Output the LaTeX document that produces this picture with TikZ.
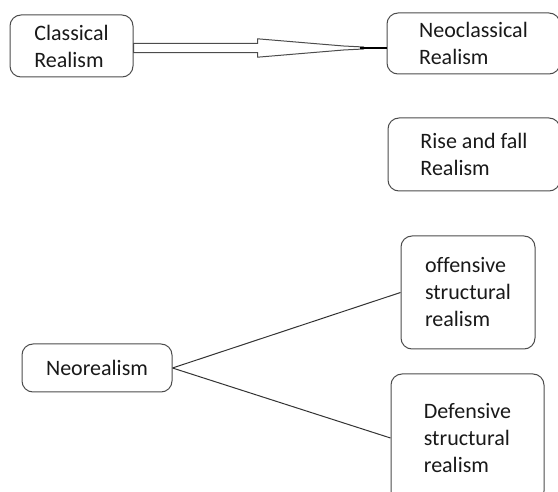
\documentclass[tikz,border=0pt]{standalone}
\usepackage{fontspec}
\setmainfont{Carlito}[Ligatures={NoCommon}]
\usepackage{tikz}
\usetikzlibrary{calc}
\usetikzlibrary{positioning}
\tikzset{
    school/.style={
           rectangle,
           rounded corners=5.5pt,
           draw=black!70, line width=0.5pt,
           align=left,
           inner sep=2pt,
           text=black!90,
           font=\fontsize{11}{13.5}\selectfont,
           },
    hollow/.style={
           draw=black!70, line width=0.5pt,
           fill=white,
           },
}
\begin{document}
\begin{tikzpicture}[x=1pt,y=1pt]

 % fixed frame of the picture
 \useasboundingbox (0,0) rectangle (279,-246);

 % Position of CLASSICAL
 \node[school, minimum width=61.5pt, minimum height=31pt] (CLASSICAL) at (35.75,-23)
 {Classical\\Realism};

 % NEOCLASSICAL to the right of CLASSICAL
 \node[school,
  minimum width=86.5pt, minimum height=30.5pt,
  right of=CLASSICAL,
  node distance=201pt,
  yshift=1.25pt] (NEOCLASSICAL)
 {Neoclassical\\Realism};

 % RISEFALL below NEOCLASSICAL
 \node[school,
  minimum width=86pt, minimum height=36.5pt,
  below of=NEOCLASSICAL,
  node distance=55.5pt,
  xshift=0.25pt] (RISEFALL)
 {Rise and fall\\Realism};

 % Position of NEOREALISM
 \node[school, minimum width=75pt, minimum height=24pt] (NEOREALISM) at (48.5,-184)
 {Neorealism};

 % OFFENSIVE up right of NEOREALISM
 \node[school,
  minimum width=67pt, minimum height=56.5pt,
  right of=NEOREALISM,
  node distance=185.5pt,
  yshift=37.75pt] (OFFENSIVE)
 {offensive\\structural\\realism};

 % DEFENSIVE down right of NEOREALISM
 \node[school,
  minimum width=76.5pt, minimum height=64pt,
  right of=NEOREALISM,
  node distance=185.25pt,
  yshift=-35pt] (DEFENSIVE)
 {Defensive\\structural\\realism};

 % hollow block arrow, tapering towards NEOCLASSICAL
 \coordinate (TAIL) at ($(CLASSICAL.east)+(0,-1)$);
 \coordinate (TIP) at ($(TAIL)+(115,0)$);
 \draw[hollow] ($(TAIL)+(0,2.35)$) -- ++(62,0) -- ++(0,2.25)
  -- ($(TIP)+(-10,1)$) -- ($(TIP)+(0,0.5)$) -- ($(TIP)+(0,-0.5)$)
  -- ($(TIP)+(-10,-1)$)
  -- ($(TAIL)+(62,-4.6)$) -- ++(0,2.25) -- ($(TAIL)+(0,-2.35)$) -- cycle;
 \draw[line width=1pt] ($(TIP)+(-2,0)$) -- (TIP -| NEOCLASSICAL.west);

 % lines from NEOREALISM
 \draw[draw=black!80, line width=0.5pt] (NEOREALISM.east) -- (OFFENSIVE.west)
  (NEOREALISM.east) -- (DEFENSIVE.west);

\end{tikzpicture}
\end{document}
